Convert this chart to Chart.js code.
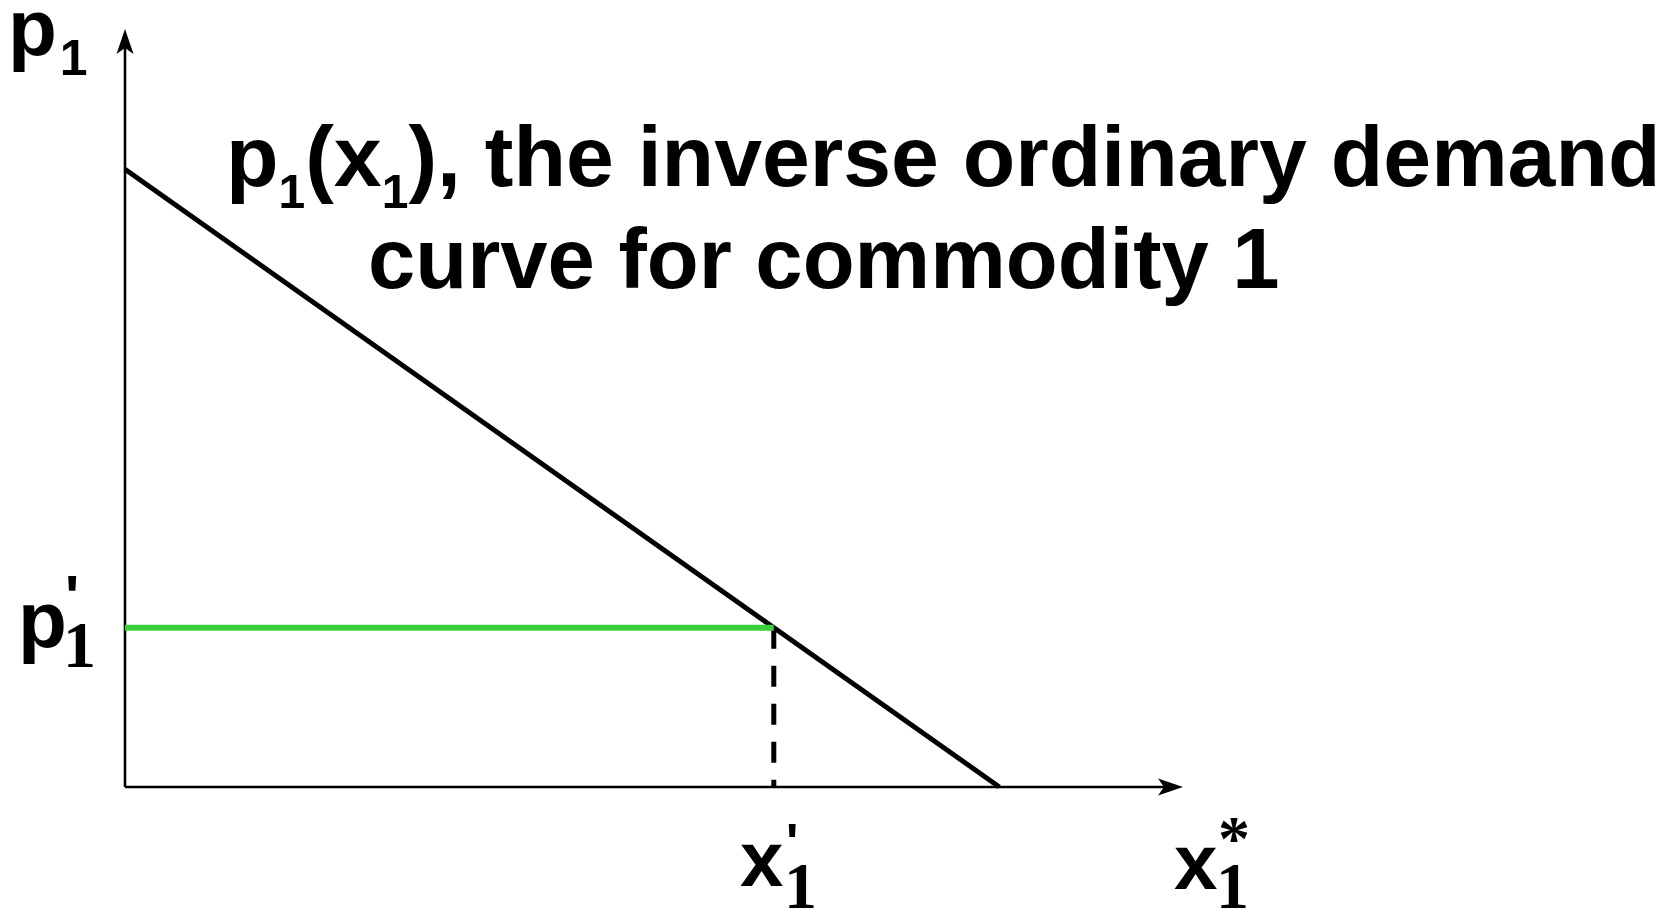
<!DOCTYPE html>
<html>
<head>
<meta charset="utf-8">
<script src="https://cdn.jsdelivr.net/npm/chart.js@4.4.1/dist/chart.umd.min.js"></script>
<style>
  html, body { margin: 0; padding: 0; background: #fff; overflow: hidden; }
  canvas { display: block; }
</style>
</head>
<body>

<canvas id="demandChart" width="1668" height="912"></canvas>

<script>
    // inverse demand curve p1(x1): end points
    let demandX = [0, 10];
    let demandY = [8.15, 0];

    // the chosen price p1' and the quantity x1' it gives on the curve
    let priceLine = [2.1];
    let quantityLine = [7.42];

    // axis ranges (the arrow tips sit at the max values)
    let xRange = [0, 12.1];
    let yRange = [0, 10];

    let sans = '"Liberation Sans", Arial, sans-serif';
    let serif = '"Liberation Serif", "Times New Roman", serif';

    // draw a run of text pieces, each with its own font and vertical shift
    function drawRuns(ctx, x, y, runs) {
        for (let r of runs) {
            ctx.font = r.font;
            ctx.fillText(r.t, x + (r.dx || 0), y + (r.dy || 0));
            x += ctx.measureText(r.t).width + (r.dx || 0);
        }
    }

    function arrowHead(ctx, tipX, tipY, dirX, dirY) {
        let len = 25, half = 8.5, notch = 6;
        let px = -dirY, py = dirX;
        ctx.beginPath();
        ctx.moveTo(tipX, tipY);
        ctx.lineTo(tipX - dirX * len + px * half, tipY - dirY * len + py * half);
        ctx.lineTo(tipX - dirX * (len - notch), tipY - dirY * (len - notch));
        ctx.lineTo(tipX - dirX * len - px * half, tipY - dirY * len - py * half);
        ctx.closePath();
        ctx.fill();
    }

    // the two axes with arrows
    let axesPlugin = {
        id: 'axes',
        beforeDatasetsDraw(chart) {
            let ctx = chart.ctx;
            let xs = chart.scales.x, ys = chart.scales.y;
            let x0 = xs.getPixelForValue(xRange[0]);
            let x1 = xs.getPixelForValue(xRange[1]);
            let y0 = ys.getPixelForValue(yRange[0]);
            let y1 = ys.getPixelForValue(yRange[1]);
            ctx.save();
            ctx.strokeStyle = '#000';
            ctx.fillStyle = '#000';
            ctx.lineWidth = 2.6;
            ctx.beginPath();
            ctx.moveTo(x0, y0);
            ctx.lineTo(x1 - 10, y0);
            ctx.moveTo(x0, y0);
            ctx.lineTo(x0, y1 + 10);
            ctx.stroke();
            arrowHead(ctx, x1, y0, 1, 0);
            arrowHead(ctx, x0, y1, 0, -1);
            ctx.restore();
        }
    };

    // labels and the heading
    let labelPlugin = {
        id: 'labels',
        afterDraw(chart) {
            let ctx = chart.ctx;
            ctx.save();
            ctx.fillStyle = '#000';
            ctx.textBaseline = 'alphabetic';
            ctx.textAlign = 'left';

            // y axis name
            drawRuns(ctx, 8, 55, [
                {t: 'p', font: 'bold 80px ' + sans},
                {t: '1', font: 'bold 50px ' + sans, dy: 20, dx: 3}
            ]);

            // heading
            drawRuns(ctx, 226, 186, [
                {t: 'p', font: 'bold 86px ' + sans},
                {t: '1', font: 'bold 48px ' + sans, dy: 22},
                {t: '(x', font: 'bold 86px ' + sans},
                {t: '1', font: 'bold 48px ' + sans, dy: 22},
                {t: '), the inverse ordinary demand', font: 'bold 86px ' + sans}
            ]);
            drawRuns(ctx, 368, 288, [
                {t: 'curve for commodity 1', font: 'bold 85px ' + sans}
            ]);

            // p1'
            ctx.font = 'bold 80px ' + sans;
            ctx.fillText('p', 18, 647);
            ctx.font = 'bold 60px ' + sans;
            ctx.fillText("'", 65, 617);
            ctx.font = 'bold 66px ' + serif;
            ctx.fillText('1', 63, 667);

            // x1'
            ctx.font = 'bold 78px ' + sans;
            ctx.fillText('x', 740, 886);
            ctx.font = 'bold 52px ' + sans;
            ctx.fillText("'", 786, 860);
            ctx.font = 'bold 66px ' + serif;
            ctx.fillText('1', 784, 908);

            // x1*
            ctx.font = 'bold 78px ' + sans;
            ctx.fillText('x', 1174, 889);
            ctx.font = 'bold 64px ' + serif;
            ctx.fillText('*', 1218, 860);
            ctx.font = 'bold 66px ' + serif;
            ctx.fillText('1', 1216, 908);

            ctx.restore();
        }
    };

    new Chart('demandChart', {
        type: 'scatter',
        data: {
            datasets: [{
                // green horizontal line at p1'
                data: [{x: 0, y: priceLine[0]}, {x: quantityLine[0], y: priceLine[0]}],
                showLine: true,
                borderColor: '#3ccf3c',
                borderWidth: 6,
                pointRadius: 0,
                clip: false
            }, {
                // dashed drop from the curve to x1'
                data: [{x: quantityLine[0], y: priceLine[0]}, {x: quantityLine[0], y: 0}],
                showLine: true,
                borderColor: '#000',
                borderWidth: 5,
                borderDash: [21, 17],
                pointRadius: 0,
                clip: false
            }, {
                // the inverse demand curve
                data: demandX.map((x, i) => ({x: x, y: demandY[i]})),
                showLine: true,
                borderColor: '#000',
                borderWidth: 5,
                pointRadius: 0,
                clip: false
            }]
        },
        options: {
            responsive: false,
            animation: false,
            devicePixelRatio: 1,
            events: [],
            layout: {padding: {left: 125, right: 485, top: 29, bottom: 125}},
            plugins: {
                legend: {display: false},
                tooltip: {enabled: false}
            },
            scales: {
                x: {type: 'linear', min: xRange[0], max: xRange[1], display: false},
                y: {type: 'linear', min: yRange[0], max: yRange[1], display: false}
            }
        },
        plugins: [axesPlugin, labelPlugin]
    });
</script>
</body>
</html>
